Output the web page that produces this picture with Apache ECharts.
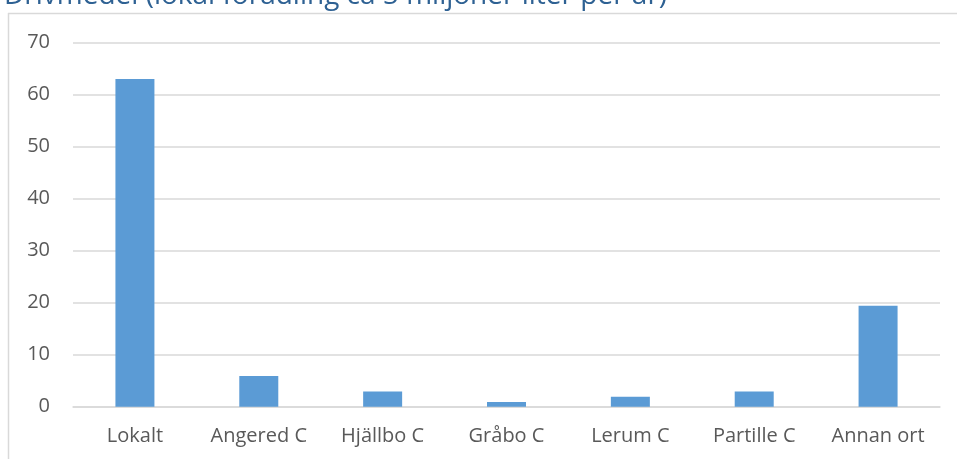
<!DOCTYPE html>
<html>
<head>
<meta charset="utf-8">
<script src="https://cdn.jsdelivr.net/npm/echarts@6/dist/echarts.min.js"></script>
<style>
  html, body { margin: 0; padding: 0; background: #fff; }
  #main { width: 957px; height: 459px; }
</style>
</head>
<body>
<div id="main"></div>
<script>
var chartTitle = 'Drivmedel (lokal förädling ca 5 miljoner liter per år)';
var categories = ['Lokalt', 'Angered C', 'Hjällbo C', 'Gråbo C', 'Lerum C', 'Partille C', 'Annan ort'];
var values = [63, 5.9, 2.9, 0.9, 1.9, 2.9, 19.4];

var myChart = echarts.init(document.getElementById('main'));

var option = {
    animation: false,
    textStyle: { fontFamily: 'Open Sans' },
    title: {
        text: chartTitle,
        left: -1,
        top: -23,
        textStyle: {
            color: '#2e6193',
            fontSize: 28,
            fontWeight: 'normal',
            fontFamily: 'Open Sans'
        }
    },
    // frame around plot area (only left and top edges visible)
    graphic: [
        { type: 'line', shape: { x1: 8.5, y1: 13, x2: 8.5, y2: 459 }, style: { stroke: '#d9d9d9', lineWidth: 1.5 } },
        { type: 'line', shape: { x1: 8, y1: 13.5, x2: 957, y2: 13.5 }, style: { stroke: '#d9d9d9', lineWidth: 1.5 } }
    ],
    grid: {
        left: 73,
        right: 17,
        top: 42.7,
        bottom: 52.3,
        containLabel: false
    },
    xAxis: {
        type: 'category',
        data: categories,
        axisLine: { lineStyle: { color: '#d9d9d9', width: 1.5 } },
        axisTick: { show: false },
        axisLabel: { color: '#595959', fontSize: 20, margin: 20, interval: 0 }
    },
    yAxis: {
        type: 'value',
        min: 0,
        max: 70,
        interval: 10,
        axisLine: { show: false },
        axisTick: { show: false },
        axisLabel: { color: '#595959', fontSize: 20, margin: 23 },
        splitLine: { lineStyle: { color: '#d9d9d9', width: 1.5 } }
    },
    series: [{
        type: 'bar',
        data: values,
        barWidth: 39,
        itemStyle: { color: '#5b9bd5' }
    }]
};

myChart.setOption(option);
</script>
</body>
</html>
